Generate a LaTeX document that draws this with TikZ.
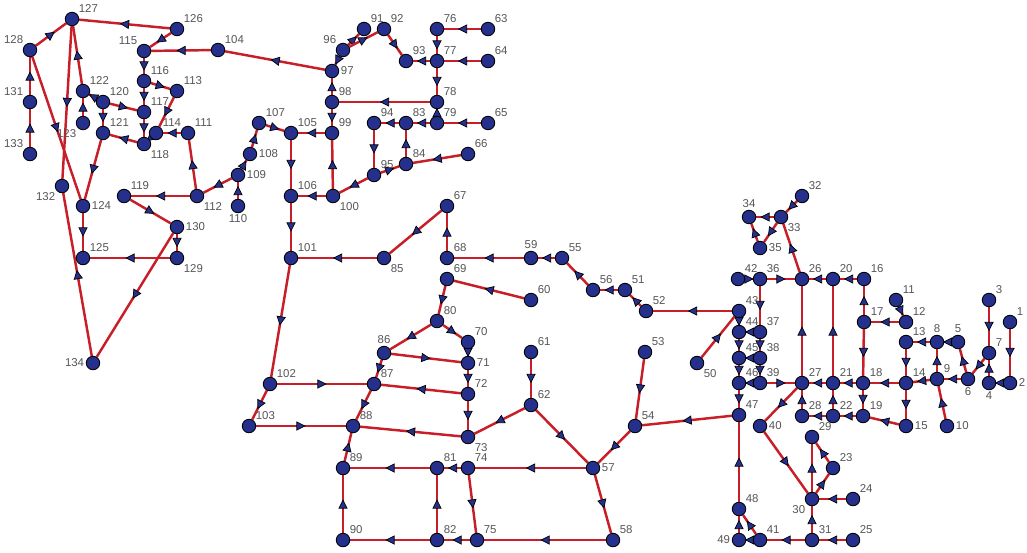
\documentclass[tikz,border=0pt]{standalone}
\usepackage{fontspec}
\setsansfont{Liberation Sans}
\usetikzlibrary{arrows.meta, decorations.markings}
\definecolor{nodeblue}{RGB}{36,48,140}
\definecolor{pipered}{RGB}{200,30,40}
\definecolor{labelgray}{RGB}{85,85,85}
\pgfdeclarelayer{pipes}
\pgfsetlayers{pipes,main}

\begin{document}
\begin{tikzpicture}[x=0.02cm, y=-0.02cm,
  vtx/.style={circle, draw=black, fill=nodeblue, line width=0.5pt, inner sep=0pt, minimum size=0.27cm},
  every label/.style={font=\sffamily\fontsize{6.5}{7}\selectfont, text=labelgray, inner sep=0.8pt},
  pipe/.style={draw=pipered, line width=1.4pt, postaction={decorate},
    decoration={markings, mark=at position 0.5 with {\arrow[xshift=2.6pt]{Triangle[length=5.2pt, width=5.2pt, color=black, fill=nodeblue, line width=0.4pt]}}}}]
\useasboundingbox (0,0) rectangle (1027,552);
% junctions
\node[vtx, label=above right:1]   (n1)   at (1010,322) {};
\node[vtx, label=right:2]         (n2)   at (1010,383) {};
\node[vtx, label=above right:3]   (n3)   at (989,300) {};
\node[vtx, label=below:4]         (n4)   at (989,383) {};
\node[vtx, label=above:5]         (n5)   at (958,342) {};
\node[vtx, label=below:6]         (n6)   at (968,379) {};
\node[vtx, label=above right:7]   (n7)   at (989,353) {};
\node[vtx, label=above:8]         (n8)   at (937,342) {};
\node[vtx, label=above right:9]   (n9)   at (937,379) {};
\node[vtx, label=right:10]        (n10)  at (947,426) {};
\node[vtx, label=above right:11]  (n11)  at (896,300) {};
\node[vtx, label=above right:12]  (n12)  at (906,322) {};
\node[vtx, label=above right:13]  (n13)  at (906,342) {};
\node[vtx, label=above right:14]  (n14)  at (906,383) {};
\node[vtx, label=right:15]        (n15)  at (906,426) {};
\node[vtx, label=above right:16]  (n16)  at (864,279) {};
\node[vtx, label=above right:17]  (n17)  at (864,322) {};
\node[vtx, label=above right:18]  (n18)  at (863,383) {};
\node[vtx, label=above right:19]  (n19)  at (863,416) {};
\node[vtx, label=above right:20]  (n20)  at (833,279) {};
\node[vtx, label=above right:21]  (n21)  at (833,383) {};
\node[vtx, label=above right:22]  (n22)  at (833,416) {};
\node[vtx, label=above right:23]  (n23)  at (833,468) {};
\node[vtx, label=above right:24]  (n24)  at (853,499) {};
\node[vtx, label=above right:25]  (n25)  at (853,540) {};
\node[vtx, label=above right:26]  (n26)  at (802,279) {};
\node[vtx, label=above right:27]  (n27)  at (802,383) {};
\node[vtx, label=above right:28]  (n28)  at (802,416) {};
\node[vtx, label=above right:29]  (n29)  at (812,437) {};
\node[vtx, label=below left:30]   (n30)  at (812,499) {};
\node[vtx, label=above right:31]  (n31)  at (812,540) {};
\node[vtx, label=above right:32]  (n32)  at (802,196) {};
\node[vtx, label=below right:33]  (n33)  at (781,217) {};
\node[vtx, label=above:34]        (n34)  at (749,217) {};
\node[vtx, label=right:35]        (n35)  at (760,248) {};
\node[vtx, label=above right:36]  (n36)  at (760,279) {};
\node[vtx, label=above right:37]  (n37)  at (760,332) {};
\node[vtx, label=above right:38]  (n38)  at (760,358) {};
\node[vtx, label=above right:39]  (n39)  at (760,383) {};
\node[vtx, label=right:40]        (n40)  at (760,426) {};
\node[vtx, label=above right:41]  (n41)  at (760,540) {};
\node[vtx, label=above right:42]  (n42)  at (738,279) {};
\node[vtx, label=above right:43]  (n43)  at (739,311) {};
\node[vtx, label=above right:44]  (n44)  at (739,332) {};
\node[vtx, label=above right:45]  (n45)  at (739,358) {};
\node[vtx, label=above right:46]  (n46)  at (739,383) {};
\node[vtx, label=above right:47]  (n47)  at (739,415) {};
\node[vtx, label=above right:48]  (n48)  at (739,509) {};
\node[vtx, label=left:49]         (n49)  at (739,540) {};
\node[vtx, label=below right:50]  (n50)  at (697,363) {};
\node[vtx, label=above right:51]  (n51)  at (625,290) {};
\node[vtx, label=above right:52]  (n52)  at (646,311) {};
\node[vtx, label=above right:53]  (n53)  at (645,352) {};
\node[vtx, label=above right:54]  (n54)  at (635,426) {};
\node[vtx, label=above right:55]  (n55)  at (562,258) {};
\node[vtx, label=above right:56]  (n56)  at (593,290) {};
\node[vtx, label=right:57]        (n57)  at (593,468) {};
\node[vtx, label=above right:58]  (n58)  at (613,540) {};
\node[vtx, label=above:59]        (n59)  at (531,258) {};
\node[vtx, label=above right:60]  (n60)  at (531,300) {};
\node[vtx, label=above right:61]  (n61)  at (531,352) {};
\node[vtx, label=above right:62]  (n62)  at (531,405) {};
\node[vtx, label=above right:63]  (n63)  at (488,29) {};
\node[vtx, label=above right:64]  (n64)  at (488,61) {};
\node[vtx, label=above right:65]  (n65)  at (488,123) {};
\node[vtx, label=above right:66]  (n66)  at (468,154) {};
\node[vtx, label=above right:67]  (n67)  at (447,206) {};
\node[vtx, label=above right:68]  (n68)  at (447,258) {};
\node[vtx, label=above right:69]  (n69)  at (447,279) {};
\node[vtx, label=above right:70]  (n70)  at (468,342) {};
\node[vtx, label=right:71]        (n71)  at (468,363) {};
\node[vtx, label=above right:72]  (n72)  at (468,394) {};
\node[vtx, label=below right:73]  (n73)  at (468,437) {};
\node[vtx, label=above right:74]  (n74)  at (468,468) {};
\node[vtx, label=above right:75]  (n75)  at (477,540) {};
\node[vtx, label=above right:76]  (n76)  at (437,29) {};
\node[vtx, label=above right:77]  (n77)  at (437,61) {};
\node[vtx, label=above right:78]  (n78)  at (437,102) {};
\node[vtx, label=above right:79]  (n79)  at (437,123) {};
\node[vtx, label=above right:80]  (n80)  at (437,321) {};
\node[vtx, label=above right:81]  (n81)  at (437,468) {};
\node[vtx, label=above right:82]  (n82)  at (437,540) {};
\node[vtx, label=above right:83]  (n83)  at (406,123) {};
\node[vtx, label=above right:84]  (n84)  at (406,164) {};
\node[vtx, label=below right:85]  (n85)  at (384,258) {};
\node[vtx, label=above:86]        (n86)  at (384,353) {};
\node[vtx, label=above right:87]  (n87)  at (374,384) {};
\node[vtx, label=above right:88]  (n88)  at (353,426) {};
\node[vtx, label=above right:89]  (n89)  at (343,468) {};
\node[vtx, label=above right:90]  (n90)  at (343,540) {};
\node[vtx, label=above right:91]  (n91)  at (364,29) {};
\node[vtx, label=above right:92]  (n92)  at (384,29) {};
\node[vtx, label=above right:93]  (n93)  at (406,61) {};
\node[vtx, label=above right:94]  (n94)  at (374,123) {};
\node[vtx, label=above right:95]  (n95)  at (374,175) {};
\node[vtx, label=above left:96]   (n96)  at (343,50) {};
\node[vtx, label=right:97]        (n97)  at (332,71) {};
\node[vtx, label=above right:98]  (n98)  at (332,102) {};
\node[vtx, label=above right:99]  (n99)  at (332,133) {};
\node[vtx, label=below right:100] (n100) at (333,196) {};
\node[vtx, label=above right:101] (n101) at (291,258) {};
\node[vtx, label=above right:102] (n102) at (270,384) {};
\node[vtx, label=above right:103] (n103) at (249,426) {};
\node[vtx, label=above right:104] (n104) at (218,50) {};
\node[vtx, label=above right:105] (n105) at (291,133) {};
\node[vtx, label=above right:106] (n106) at (291,196) {};
\node[vtx, label=above right:107] (n107) at (259,123) {};
\node[vtx, label=right:108]       (n108) at (250,154) {};
\node[vtx, label=right:109]       (n109) at (238,175) {};
\node[vtx, label=below:110]       (n110) at (238,206) {};
\node[vtx, label=above right:111] (n111) at (188,133) {};
\node[vtx, label=below right:112] (n112) at (197,196) {};
\node[vtx, label=above right:113] (n113) at (177,91) {};
\node[vtx, label=above right:114] (n114) at (156,133) {};
\node[vtx, label=above left:115]  (n115) at (144,51) {};
\node[vtx, label=above right:116] (n116) at (144,81) {};
\node[vtx, label=above right:117] (n117) at (144,112) {};
\node[vtx, label=below right:118] (n118) at (144,144) {};
\node[vtx, label=above right:119] (n119) at (124,196) {};
\node[vtx, label=above right:120] (n120) at (103,102) {};
\node[vtx, label=above right:121] (n121) at (103,133) {};
\node[vtx, label=above right:122] (n122) at (83,91) {};
\node[vtx, label=below left:123]  (n123) at (83,123) {};
\node[vtx, label=right:124]       (n124) at (83,206) {};
\node[vtx, label=above right:125] (n125) at (83,258) {};
\node[vtx, label=above right:126] (n126) at (177,29) {};
\node[vtx, label=above right:127] (n127) at (72,19) {};
\node[vtx, label=above left:128]  (n128) at (30,50) {};
\node[vtx, label=below right:129] (n129) at (177,258) {};
\node[vtx, label=right:130]       (n130) at (177,227) {};
\node[vtx, label=above left:131]  (n131) at (30,102) {};
\node[vtx, label=below left:132]  (n132) at (62,186) {};
\node[vtx, label=above left:133]  (n133) at (30,154) {};
\node[vtx, label=left:134]        (n134) at (93,363) {};
% pipes, drawn under the junctions
\begin{pgfonlayer}{pipes}
\draw[pipe] (n1) -- (n2);
\draw[pipe] (n2) -- (n4);
\draw[pipe] (n3) -- (n7);
\draw[pipe] (n4) -- (n7);
\draw[pipe] (n7) -- (n6);
\draw[pipe] (n6) -- (n5);
\draw[pipe] (n6) -- (n9);
\draw[pipe] (n5) -- (n8);
\draw[pipe] (n10) -- (n9);
\draw[pipe] (n9) -- (n8);
\draw[pipe] (n8) -- (n13);
\draw[pipe] (n9) -- (n14);
\draw[pipe] (n13) -- (n14);
\draw[pipe] (n11) -- (n12);
\draw[pipe] (n12) -- (n17);
\draw[pipe] (n17) -- (n16);
\draw[pipe] (n17) -- (n18);
\draw[pipe] (n14) -- (n15);
\draw[pipe] (n14) -- (n18);
\draw[pipe] (n15) -- (n19);
\draw[pipe] (n18) -- (n19);
\draw[pipe] (n18) -- (n21);
\draw[pipe] (n19) -- (n22);
\draw[pipe] (n22) -- (n21);
\draw[pipe] (n22) -- (n28);
\draw[pipe] (n16) -- (n20);
\draw[pipe] (n21) -- (n20);
\draw[pipe] (n20) -- (n26);
\draw[pipe] (n21) -- (n27);
\draw[pipe] (n28) -- (n27);
\draw[pipe] (n27) -- (n26);
\draw[pipe] (n27) -- (n40);
\draw[pipe] (n40) -- (n30);
\draw[pipe] (n26) -- (n33);
\draw[pipe] (n32) -- (n33);
\draw[pipe] (n33) -- (n34);
\draw[pipe] (n33) -- (n35);
\draw[pipe] (n35) -- (n34);
\draw[pipe] (n42) -- (n36);
\draw[pipe] (n36) -- (n26);
\draw[pipe] (n36) -- (n37);
\draw[pipe] (n37) -- (n44);
\draw[pipe] (n37) -- (n38);
\draw[pipe] (n38) -- (n45);
\draw[pipe] (n38) -- (n39);
\draw[pipe] (n39) -- (n46);
\draw[pipe] (n39) -- (n27);
\draw[pipe] (n43) -- (n44);
\draw[pipe] (n44) -- (n45);
\draw[pipe] (n45) -- (n46);
\draw[pipe] (n46) -- (n47);
\draw[pipe] (n50) -- (n43);
\draw[pipe] (n43) -- (n52);
\draw[pipe] (n47) -- (n54);
\draw[pipe] (n48) -- (n47);
\draw[pipe] (n49) -- (n48);
\draw[pipe] (n41) -- (n49);
\draw[pipe] (n41) -- (n48);
\draw[pipe] (n31) -- (n41);
\draw[pipe] (n25) -- (n31);
\draw[pipe] (n31) -- (n30);
\draw[pipe] (n24) -- (n30);
\draw[pipe] (n30) -- (n29);
\draw[pipe] (n30) -- (n23);
\draw[pipe] (n23) -- (n29);
\draw[pipe] (n52) -- (n51);
\draw[pipe] (n51) -- (n56);
\draw[pipe] (n56) -- (n55);
\draw[pipe] (n55) -- (n59);
\draw[pipe] (n59) -- (n68);
\draw[pipe] (n68) -- (n67);
\draw[pipe] (n67) -- (n85);
\draw[pipe] (n85) -- (n101);
\draw[pipe] (n60) -- (n69);
\draw[pipe] (n69) -- (n80);
\draw[pipe] (n80) -- (n86);
\draw[pipe] (n80) -- (n70);
\draw[pipe] (n70) -- (n71);
\draw[pipe] (n86) -- (n71);
\draw[pipe] (n71) -- (n72);
\draw[pipe] (n72) -- (n87);
\draw[pipe] (n72) -- (n73);
\draw[pipe] (n86) -- (n87);
\draw[pipe] (n87) -- (n88);
\draw[pipe] (n102) -- (n87);
\draw[pipe] (n101) -- (n102);
\draw[pipe] (n102) -- (n103);
\draw[pipe] (n103) -- (n88);
\draw[pipe] (n73) -- (n88);
\draw[pipe] (n89) -- (n88);
\draw[pipe] (n81) -- (n89);
\draw[pipe] (n74) -- (n81);
\draw[pipe] (n90) -- (n89);
\draw[pipe] (n82) -- (n90);
\draw[pipe] (n82) -- (n81);
\draw[pipe] (n75) -- (n82);
\draw[pipe] (n74) -- (n75);
\draw[pipe] (n57) -- (n74);
\draw[pipe] (n58) -- (n75);
\draw[pipe] (n57) -- (n58);
\draw[pipe] (n62) -- (n57);
\draw[pipe] (n62) -- (n73);
\draw[pipe] (n61) -- (n62);
\draw[pipe] (n53) -- (n54);
\draw[pipe] (n54) -- (n57);
\draw[pipe] (n63) -- (n76);
\draw[pipe] (n76) -- (n77);
\draw[pipe] (n64) -- (n77);
\draw[pipe] (n77) -- (n93);
\draw[pipe] (n92) -- (n93);
\draw[pipe] (n96) -- (n91);
\draw[pipe] (n96) -- (n92);
\draw[pipe] (n96) -- (n97);
\draw[pipe] (n77) -- (n78);
\draw[pipe] (n79) -- (n78);
\draw[pipe] (n78) -- (n98);
\draw[pipe] (n98) -- (n97);
\draw[pipe] (n98) -- (n99);
\draw[pipe] (n97) -- (n104);
\draw[pipe] (n65) -- (n79);
\draw[pipe] (n79) -- (n83);
\draw[pipe] (n83) -- (n94);
\draw[pipe] (n84) -- (n83);
\draw[pipe] (n66) -- (n84);
\draw[pipe] (n94) -- (n95);
\draw[pipe] (n95) -- (n84);
\draw[pipe] (n95) -- (n100);
\draw[pipe] (n100) -- (n99);
\draw[pipe] (n100) -- (n106);
\draw[pipe] (n99) -- (n105);
\draw[pipe] (n105) -- (n106);
\draw[pipe] (n106) -- (n101);
\draw[pipe] (n107) -- (n105);
\draw[pipe] (n108) -- (n107);
\draw[pipe] (n109) -- (n108);
\draw[pipe] (n110) -- (n109);
\draw[pipe] (n109) -- (n112);
\draw[pipe] (n112) -- (n111);
\draw[pipe] (n112) -- (n119);
\draw[pipe] (n111) -- (n114);
\draw[pipe] (n113) -- (n114);
\draw[pipe] (n114) -- (n118);
\draw[pipe] (n104) -- (n115);
\draw[pipe] (n126) -- (n115);
\draw[pipe] (n126) -- (n127);
\draw[pipe] (n115) -- (n116);
\draw[pipe] (n116) -- (n113);
\draw[pipe] (n116) -- (n117);
\draw[pipe] (n117) -- (n118);
\draw[pipe] (n120) -- (n117);
\draw[pipe] (n118) -- (n121);
\draw[pipe] (n120) -- (n121);
\draw[pipe] (n120) -- (n122);
\draw[pipe] (n123) -- (n122);
\draw[pipe] (n122) -- (n127);
\draw[pipe] (n121) -- (n124);
\draw[pipe] (n128) -- (n127);
\draw[pipe] (n127) -- (n132);
\draw[pipe] (n128) -- (n124);
\draw[pipe] (n131) -- (n128);
\draw[pipe] (n133) -- (n131);
\draw[pipe] (n124) -- (n125);
\draw[pipe] (n129) -- (n125);
\draw[pipe] (n130) -- (n129);
\draw[pipe] (n119) -- (n130);
\draw[pipe] (n130) -- (n134);
\draw[pipe] (n134) -- (n132);
\end{pgfonlayer}
\end{tikzpicture}
\end{document}
